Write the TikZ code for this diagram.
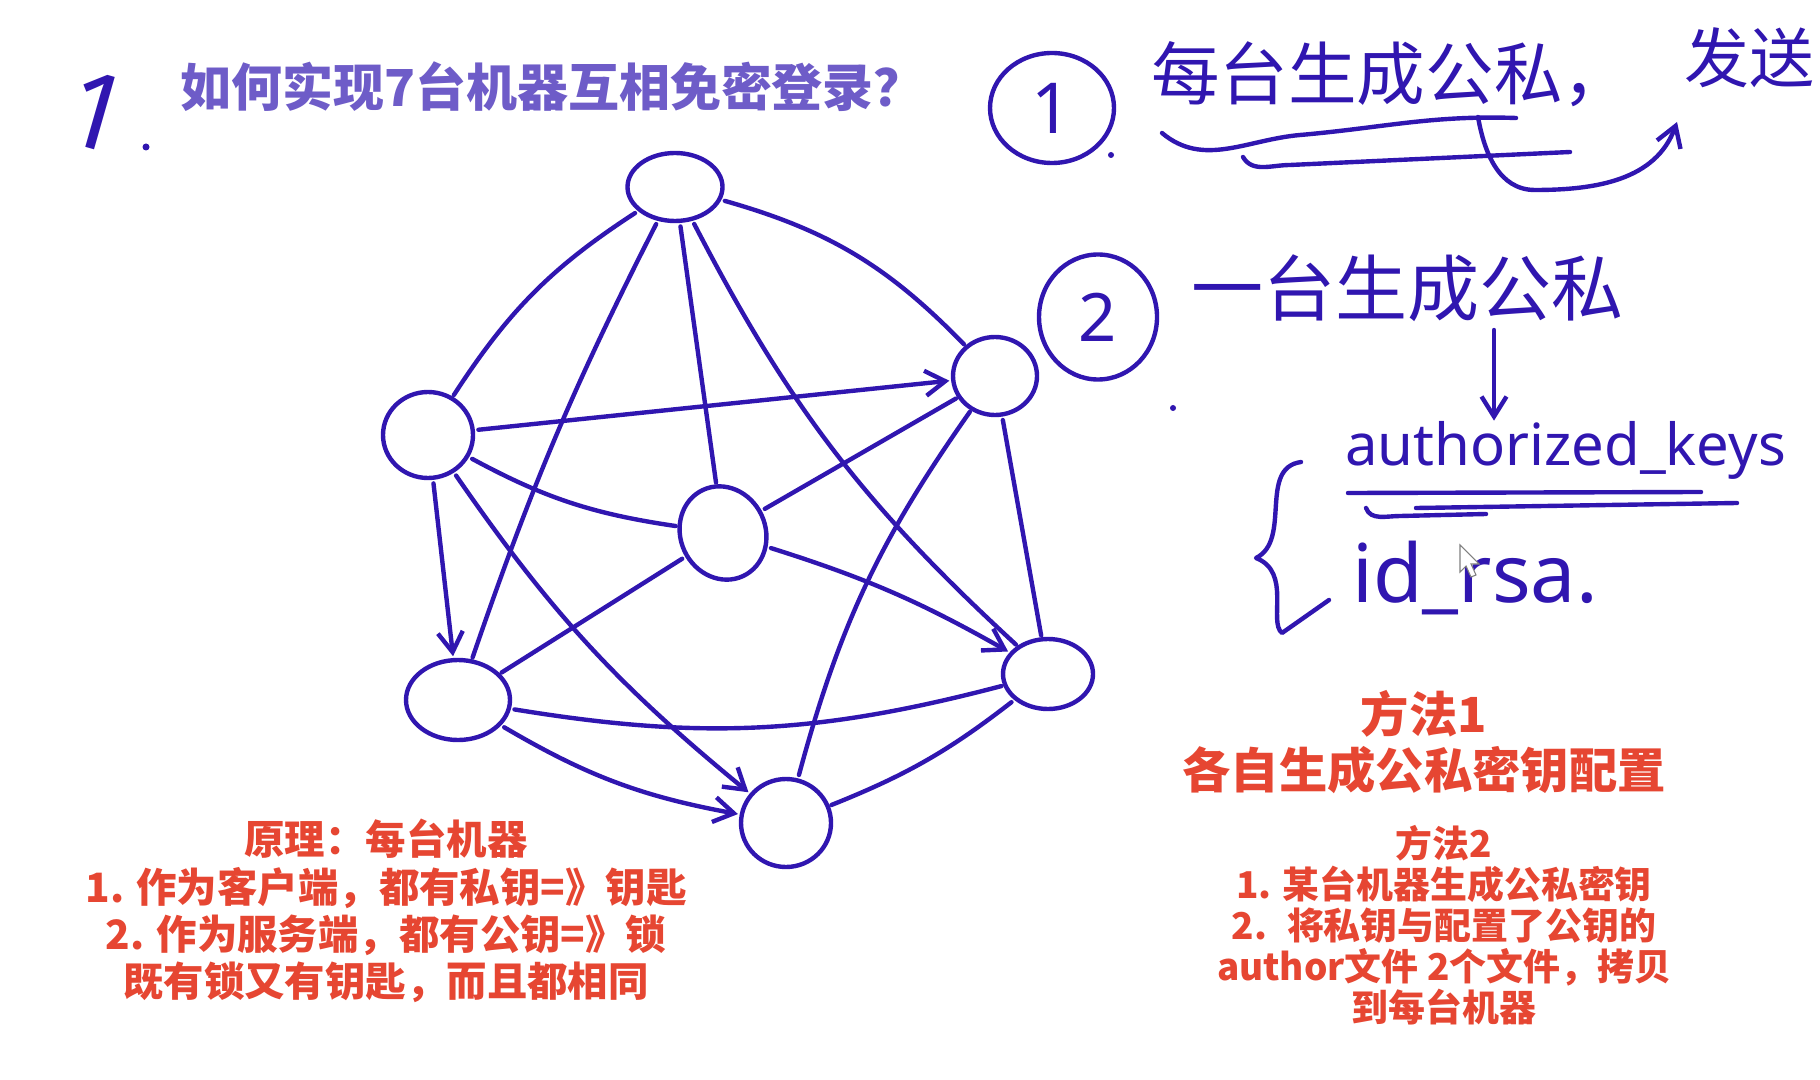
\documentclass[tikz,border=0pt]{standalone}
\usepackage{fontspec}
\usetikzlibrary{arrows.meta,shapes.geometric}
\newfontfamily\cjk{Noto Sans CJK SC}
\newfontfamily\hand{Noto Sans}
\definecolor{penblue}{RGB}{48,22,176}
\definecolor{titlepurple}{RGB}{110,92,200}
\definecolor{notered}{RGB}{230,70,50}

\begin{document}
\begin{tikzpicture}[x=0.2mm, y=0.2mm,
    host/.style={ellipse, draw=penblue, line width=2.5pt, inner sep=0pt},
    link/.style={draw=penblue, line width=2.5pt, line cap=round, shorten <=2pt, shorten >=1pt},
    tip/.style={-{Straight Barb[length=4mm, width=5mm]}},
    pen/.style={draw=penblue, line width=2.5pt, line cap=round, line join=round},
    ink/.style={text=penblue, inner sep=0pt},
    note/.style={text=notered, align=center, inner sep=0pt}
]
\useasboundingbox (0,0) rectangle (1820,-1080);
\fill[white] (0,0) rectangle (1820,-1080);

% Title
\node[ink, font=\hand\fontsize{60pt}{60pt}\selectfont, rotate=-16] (num) at (98,-112) {1};
\fill[penblue] (146,-147) circle (3.5);
\node[anchor=west, inner sep=0pt, text=titlepurple, font=\cjk\bfseries\fontsize{29pt}{30pt}\selectfont] (title) at (180,-87) {如何实现7台机器互相免密登录？};

% Machines
\node[host, minimum width=19mm, minimum height=13.6mm] (top) at (675,-187) {};
\node[host, minimum width=18mm, minimum height=17.2mm] (lft) at (428,-435) {};
\node[host, minimum width=16.8mm, minimum height=15.6mm] (rup) at (995,-376) {};
\node[host, minimum width=17mm, minimum height=19mm, rotate=25] (mid) at (723,-533) {};
\node[host, minimum width=20.8mm, minimum height=16mm] (blf) at (458,-700) {};
\node[host, minimum width=18mm, minimum height=14mm] (rlo) at (1048,-674) {};
\node[host, minimum width=18mm, minimum height=17.6mm] (bot) at (786,-823) {};

% Links
\draw[link] (top) to[bend right=12] (lft);
\draw[link] (top) to[bend left=15] (rup);
\draw[link] (top) to[bend right=4] (blf);
\draw[link] (top) -- (mid);
\draw[link] (top) to[bend right=10] (rlo);
\draw[link, tip] (lft) -- (rup);
\draw[link] (lft) to[bend right=10] (mid);
\draw[link, tip] (lft) to[bend right=8] (bot);
\draw[link, tip] (lft) -- (blf);
\draw[link] (mid) -- (rup);
\draw[link] (mid) -- (blf);
\draw[link, tip] (mid) to[bend left=6] (rlo);
\draw[link] (rup) -- (rlo);
\draw[link] (bot) to[bend left=10] (rup);
\draw[link] (blf) to[bend right=12] (rlo);
\draw[link, tip] (blf) to[bend right=10] (bot);
\draw[link] (rlo) to[bend left=8] (bot);

% Step 1
\node[host, minimum width=24.8mm, minimum height=22mm, text=penblue, font=\hand\fontsize{40pt}{40pt}\selectfont] (one) at (1052,-108) {1};
\fill[penblue] (1111,-155) circle (3);
\node[ink, anchor=west, font=\cjk\fontsize{39pt}{39pt}\selectfont] (gen1) at (1151,-74) {每台生成公私，};
\node[ink, anchor=west, font=\cjk\fontsize{37pt}{37pt}\selectfont] (send) at (1684,-58) {发送};
\draw[pen] (1162,-133) to[out=-40, in=185] (1300,-135) to[out=5, in=178] (1516,-118);
\draw[pen] (1243,-157) to[out=-60, in=180] (1290,-165) -- (1570,-152);
\draw[pen, tip] (1478,-117) to[out=-80, in=180] (1535,-190) to[out=0, in=-110] (1677,-122);

% Step 2
\node[host, minimum width=23.6mm, minimum height=25mm, text=penblue, font=\hand\fontsize{38pt}{38pt}\selectfont] (two) at (1098,-317) {2};
\fill[penblue] (1173,-408) circle (3);
\node[ink, anchor=west, font=\cjk\fontsize{41pt}{41pt}\selectfont] (gen2) at (1191,-288) {一台生成公私};
\node[ink, anchor=west, font=\hand\fontsize{33pt}{33pt}\selectfont] (akeys) at (1345,-450) {authorized\_keys};
\coordinate (dn) at (1494,-330);
\draw[pen, tip] (dn) -- (dn |- akeys.north);
\draw[pen] (1348,-493) -- (1701,-492);
\draw[pen] (1366,-508) to[out=-70, in=180] (1400,-516) -- (1486,-514);
\draw[pen] (1416,-508) -- (1737,-503);
\draw[pen] (1301,-462) .. controls (1258,-468) and (1292,-540) .. (1256,-558)
           .. controls (1292,-572) and (1268,-622) .. (1282,-633) -- (1329,-600);
\node[ink, anchor=west, font=\hand\fontsize{46pt}{46pt}\selectfont] (idrsa) at (1352,-578) {id\_rsa.};
\draw[gray, fill=white, line width=0.6pt] (1460,-545) -- (1460,-572) -- (1466,-566) -- (1471,-577)
     -- (1476,-575) -- (1471,-564) -- (1479,-564) -- cycle;

% Notes
\node[note, font=\cjk\bfseries\fontsize{23pt}{26.8pt}\selectfont] (why) at (386,-911)
  {原理：每台机器\\1. 作为客户端，都有私钥=》钥匙\\2. 作为服务端，都有公钥=》锁\\既有锁又有钥匙，而且都相同};
\node[note, font=\cjk\bfseries\fontsize{27.5pt}{32pt}\selectfont] (way1) at (1424,-742)
  {方法1\\各自生成公私密钥配置};
\node[note, font=\cjk\bfseries\fontsize{21pt}{23.4pt}\selectfont] (way2) at (1444,-925)
  {方法2\\1. 某台机器生成公私密钥\\2.~ 将私钥与配置了公钥的\\author文件 2个文件，拷贝\\到每台机器};
\end{tikzpicture}
\end{document}
